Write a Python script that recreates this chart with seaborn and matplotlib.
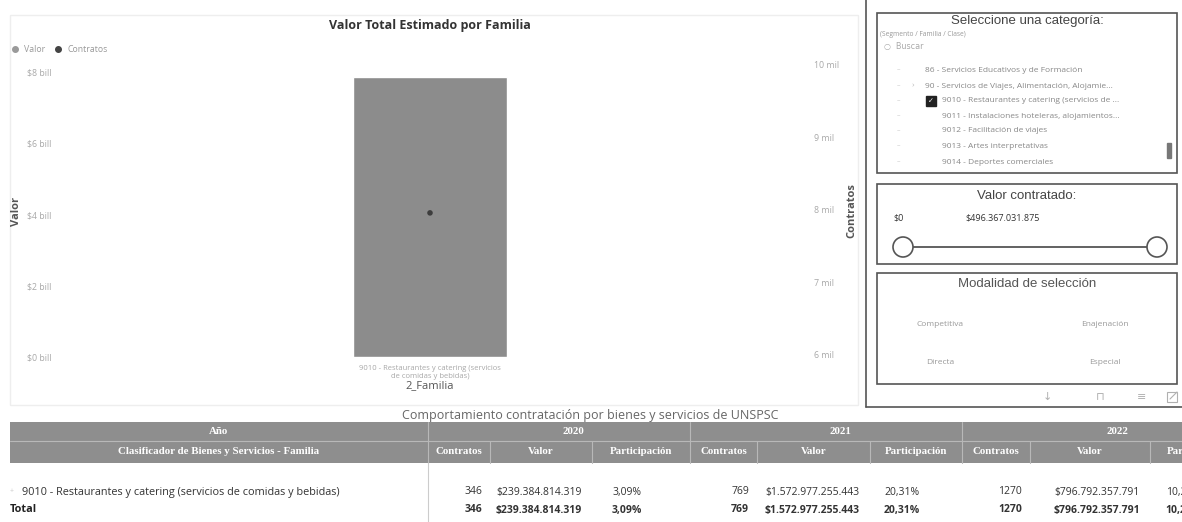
import matplotlib
matplotlib.use("Agg")
import matplotlib.pyplot as plt
import seaborn as sns
import pandas as pd
import numpy as np
from matplotlib.patches import Rectangle, Circle
from matplotlib.lines import Line2D

# ---------------- data ----------------
familia = ["9010 - Restaurantes y catering (servicios\nde comidas y bebidas)"]
valor_total = [7.86e12]
contratos_total = [7960]

valor_ticks = [0, 2e12, 4e12, 6e12, 8e12]
valor_tick_labels = ["$0 bill", "$2 bill", "$4 bill", "$6 bill", "$8 bill"]
contratos_ticks = [6000, 7000, 8000, 9000, 10000]
contratos_tick_labels = ["6 mil", "7 mil", "8 mil", "9 mil", "10 mil"]

anios = ["2020", "2021", "2022"]
tabla_familia = "9010 - Restaurantes y catering (servicios de comidas y bebidas)"
tabla_contratos = [346, 769, 1270]
tabla_valor = [239384814319, 1572977255443, 796792357791]
tabla_participacion = [3.09, 20.31, 10.28]
subcolumnas = ["Contratos", "Valor", "Participación"]

categorias = [
    "86 - Servicios Educativos y de Formación",
    "90 - Servicios de Viajes, Alimentación, Alojamie...",
    "9010 - Restaurantes y catering (servicios de ...",
    "9011 - Instalaciones hoteleras, alojamientos...",
    "9012 - Facilitación de viajes",
    "9013 - Artes interpretativas",
    "9014 - Deportes comerciales",
]
categoria_nivel = [0, 0, 1, 1, 1, 1, 1]
categoria_sel = [False, False, True, False, False, False, False]
rango_valor = [0, 496367031875]
modalidades = ["Competitiva", "Enajenación", "Directa", "Especial"]

# ---------------- style ----------------
sns.set_theme(style="white")
plt.rcParams["font.family"] = ["Open Sans", "DejaVu Sans"]

W, H = 1182, 522
fig = plt.figure(figsize=(W / 100, H / 100), dpi=100)


def fx(x):
    return x / W


def fy(y):
    return 1 - y / H


def fmt_money(v):
    return "$" + f"{v:,.0f}".replace(",", ".")


# ---------------- main chart ----------------
ax = fig.add_axes([fx(60), fy(357), fx(800) - fx(60), fy(65) - fy(357)])
df = pd.DataFrame({"Familia": familia, "Valor": valor_total, "Contratos": contratos_total})
sns.barplot(data=df, x="Familia", y="Valor", color="#8c8c8c", saturation=1,
            width=0.207, ax=ax)
ax.set_ylim(0, 8.2e12)
ax.set_yticks(valor_ticks, valor_tick_labels)
ax.tick_params(axis="y", length=0, pad=6, labelsize=6.3, labelcolor="#a8a8a8")
ax.tick_params(axis="x", length=0, pad=6, labelsize=5.5, labelcolor="#a8a8a8")
ax.set_xlabel("2_Familia", fontsize=8, color="#555555", labelpad=0)
ax.set_ylabel("Valor", fontsize=8, color="#555555", fontweight="bold")
ax.yaxis.set_label_coords((22 - 60) / 740, 0.5)
for s in ax.spines.values():
    s.set_visible(False)

ax2 = ax.twinx()
sns.scatterplot(x=np.arange(len(df)), y=df["Contratos"].values, color="#3d3d3d",
                s=16, edgecolor="none", ax=ax2, zorder=5)
ax2.set_ylim(5972, 10000)
ax2.set_yticks(contratos_ticks, contratos_tick_labels)
ax2.tick_params(axis="y", length=0, pad=10, labelsize=6.3, labelcolor="#a8a8a8")
ax2.set_ylabel("Contratos", fontsize=8, color="#555555", fontweight="bold")
ax2.yaxis.set_label_coords((846 - 60) / 740, 0.5)
for s in ax2.spines.values():
    s.set_visible(False)
ax.set_xlim(-0.5, 0.5)

fig.text(fx(430), fy(25), "Valor Total Estimado por Familia", ha="center", va="center",
         fontsize=9, fontweight="bold", color="#333333")

handles = [Line2D([], [], marker="o", ls="", color="#9a9a9a", markersize=4),
           Line2D([], [], marker="o", ls="", color="#444444", markersize=4)]
fig.legend(handles, ["Valor", "Contratos"], loc="center left",
           bbox_to_anchor=(fx(6), fy(50)), ncol=2, frameon=False, fontsize=6.3,
           handletextpad=0.1, columnspacing=0.4, labelcolor="#9a9a9a",
           borderpad=0, borderaxespad=0)

# ---------------- overlay for panels & table ----------------
ov = fig.add_axes([0, 0, 1, 1], zorder=-1)
ov.set_xlim(0, W)
ov.set_ylim(H, 0)
ov.axis("off")

# faint chart frame
ov.add_patch(Rectangle((10, 15), 848, 390, fill=False, ec="#eeeeee", lw=1))

# right panel outer border
ov.plot([866, 866], [0, 407], color="#555555", lw=1.2)
ov.plot([866, W], [407, 407], color="#555555", lw=1.2)

TITLE_FONT = ["Liberation Sans", "DejaVu Sans"]

# box 1: categories
ov.add_patch(Rectangle((877, 13), 300, 160, fill=False, ec="#555555", lw=1.2))
ov.text(1027, 21, "Seleccione una categoría:", ha="center", va="center", fontsize=9.5,
        color="#444444", family=TITLE_FONT)
ov.text(880, 34, "(Segmento / Familia / Clase)", ha="left", va="center", fontsize=4.8,
        color="#999999")
ov.text(884, 46, "○  Buscar", ha="left", va="center", fontsize=5.8, color="#aaaaaa",
        family=["DejaVu Sans"])
ys = [70, 86, 101, 116, 131, 146, 162]
for y, cat, lvl, sel in zip(ys, categorias, categoria_nivel, categoria_sel):
    ov.text(898, y, "–", ha="center", va="center", fontsize=5, color="#cccccc")
    if lvl == 0:
        x0 = 925
        if cat.startswith("90"):
            ov.text(913, y, "›", ha="center", va="center", fontsize=6, color="#bbbbbb")
    else:
        x0 = 942
    if sel:
        ov.add_patch(Rectangle((926, y - 5), 10, 10, color="#222222"))
        ov.text(931, y, "✓", ha="center", va="center", fontsize=5, color="white",
                family=["DejaVu Sans"])
    ov.text(x0, y, cat, ha="left", va="center", fontsize=6, color="#888888")
ov.add_patch(Rectangle((1167, 143), 4, 15, color="#777777"))

# box 2: slider
ov.add_patch(Rectangle((877, 184), 300, 80, fill=False, ec="#555555", lw=1.2))
ov.text(1027, 196, "Valor contratado:", ha="center", va="center", fontsize=9.5,
        color="#444444", family=TITLE_FONT)
ov.text(893, 218, fmt_money(rango_valor[0]), ha="left", va="center", fontsize=6.5,
        color="#333333")
ov.text(965, 218, fmt_money(rango_valor[1]), ha="left", va="center", fontsize=6.5,
        color="#333333")
ov.plot([903, 1157], [247, 247], color="#555555", lw=1.3, zorder=1)
for cx in (903, 1157):
    ov.add_patch(Circle((cx, 247), 10, fc="white", ec="#555555", lw=1.2, zorder=2))

# box 3: modalidad
ov.add_patch(Rectangle((877, 273), 300, 111, fill=False, ec="#555555", lw=1.2))
ov.text(1027, 284, "Modalidad de selección", ha="center", va="center", fontsize=9.5,
        color="#555555", family=TITLE_FONT)
for (x, y), m in zip([(940, 325), (1105, 325), (940, 362), (1105, 362)], modalidades):
    ov.text(x, y, m, ha="center", va="center", fontsize=6, color="#999999")
for x, ic in zip([1047, 1100, 1142], ["↓", "⊓", "≡"]):
    ov.text(x, 397, ic, ha="center", va="center", fontsize=8, color="#b0b0b0",
            family=["DejaVu Sans"])
# focus-mode icon drawn as a small shape
ov.add_patch(Rectangle((1167, 392), 10, 10, fill=False, ec="#b0b0b0", lw=0.8))
ov.plot([1170, 1177], [399, 392], color="#b0b0b0", lw=0.8)

# ---------------- table ----------------
ov.text(590, 415, "Comportamiento contratación por bienes y servicios de UNSPSC",
        ha="center", va="center", fontsize=9, color="#666666")

HEAD = "#8e8e8e"
SERIF = ["Liberation Serif", "DejaVu Serif"]
col_edges = [10, 428, 490, 592, 690, 757, 870, 962, 1030, 1150, 1245]
r1_top, r1_bot, r2_bot = 422, 441, 463
ov.add_patch(Rectangle((10, r1_top), 1240, r2_bot - r1_top, color=HEAD, lw=0))
ov.plot([10, 1250], [r1_bot, r1_bot], color="#b8b8b8", lw=0.8)
for i in range(len(anios) + 1):
    xe = col_edges[1 + 3 * i]
    ov.plot([xe, xe], [r1_top, r1_bot], color="#b8b8b8", lw=0.8)
for e in col_edges[1:]:
    ov.plot([e, e], [r1_bot, r2_bot], color="#b8b8b8", lw=0.8)

ov.text((10 + 428) / 2, (r1_top + r1_bot) / 2, "Año", ha="center", va="center",
        fontsize=7.8, color="white", fontweight="bold", family=SERIF)
ov.text((10 + 428) / 2, (r1_bot + r2_bot) / 2,
        "Clasificador de Bienes y Servicios - Familia", ha="center", va="center",
        fontsize=7.8, color="white", fontweight="bold", family=SERIF)

rows_y = [492, 510]
for i, yr in enumerate(anios):
    e0, e1, e2, e3 = col_edges[1 + 3 * i: 5 + 3 * i]
    ov.text((e0 + e3) / 2 + 14, (r1_top + r1_bot) / 2, yr, ha="center", va="center",
            fontsize=7.8, color="white", fontweight="bold", family=SERIF)
    for (a, b), name in zip([(e0, e1), (e1, e2), (e2, e3)], subcolumnas):
        ov.text((a + b) / 2, (r1_bot + r2_bot) / 2, name, ha="center", va="center",
                fontsize=7.8, color="white", fontweight="bold", family=SERIF)
    for ry, bold in zip(rows_y, [False, True]):
        w = "bold" if bold else "normal"
        ov.text(e1 - 8, ry, f"{tabla_contratos[i]}", ha="right", va="center",
                fontsize=7.5, color="#333333", fontweight=w)
        ov.text(e2 - 10, ry, fmt_money(tabla_valor[i]), ha="right", va="center",
                fontsize=7.5, color="#333333", fontweight=w)
        ov.text((e2 + e3) / 2 - 14, ry,
                f"{tabla_participacion[i]:.2f}".replace(".", ",") + "%",
                ha="center", va="center", fontsize=7.5, color="#333333", fontweight=w)

ov.plot([428, 428], [r2_bot, H], color="#cccccc", lw=0.8)
ov.text(12, rows_y[0], "+", ha="center", va="center", fontsize=5, color="#cccccc")
ov.text(22, rows_y[0], tabla_familia, ha="left", va="center", fontsize=7.8,
        color="#333333")
ov.text(10, rows_y[1], "Total", ha="left", va="center", fontsize=7.8,
        color="#222222", fontweight="bold")

fig.savefig("out.png", dpi=100)
